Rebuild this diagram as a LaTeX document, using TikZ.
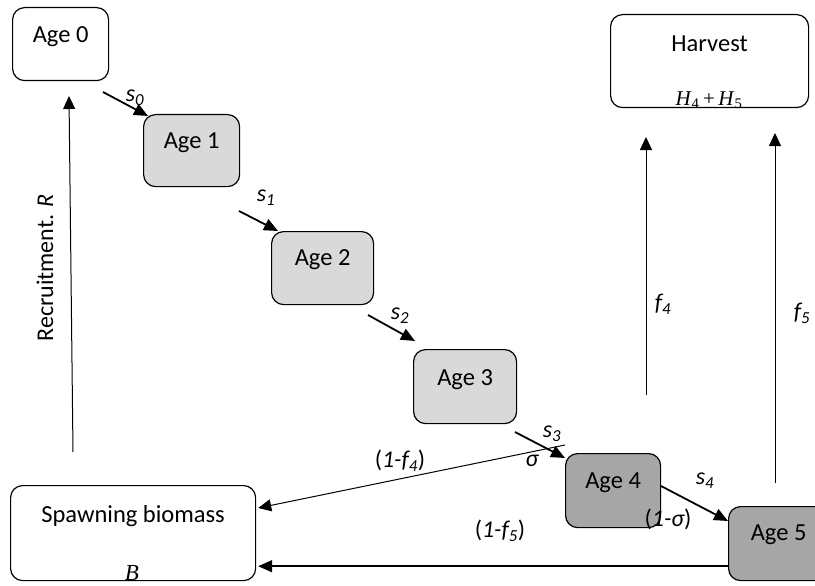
\documentclass[tikz,border=0pt]{standalone}
\usepackage{fontspec}
\setmainfont{Carlito}
\newfontfamily\tms{Liberation Serif}
\usetikzlibrary{arrows.meta}
\definecolor{lightg}{HTML}{D9D9D9}
\definecolor{darkg}{HTML}{A6A6A6}
\tikzset{
  box/.style={draw, line width=1.2pt, rounded corners=12pt, inner sep=0pt, anchor=north west,
    font=\fontsize{24.5}{29}\selectfont},
  light/.style={fill=lightg},
  dark/.style={fill=darkg},
  sarr/.style={line width=1.8pt, -{Triangle[length=14pt,width=12pt]}},
  larr/.style={line width=1pt, -{Triangle[length=13pt,width=12pt]}},
  barr/.style={line width=1.6pt, -{Triangle[length=14pt,width=12pt]}},
  lbl/.style={font=\fontsize{24}{28}\selectfont\itshape, inner sep=0pt},
  serifl/.style={font=\fontsize{21}{24}\selectfont\tms, inner sep=0pt},
}
\begin{document}
\begin{tikzpicture}[x=1pt,y=-1pt]
\useasboundingbox (0,0) rectangle (815,586);
% boxes
\node[box, minimum width=96pt, text height=34.5pt, text depth=38.5pt] (a0) at (12,7) {Age 0};
\node[box, light, minimum width=96pt, text height=34pt, text depth=38pt] (a1) at (143,114) {Age 1};
\node[box, light, minimum width=102pt, text height=34pt, text depth=39pt] (a2) at (271,231) {Age 2};
\node[box, light, minimum width=103pt, text height=36pt, text depth=38pt] (a3) at (413,349) {Age 3};
\node[box, dark, minimum width=95pt, text height=35pt, text depth=39pt] (a4) at (565,453) {Age 4};
\node[box, dark, minimum width=100pt, text height=34pt, text depth=40pt] (a5) at (728,506) {Age 5};
\node[box, minimum width=198pt, text height=37pt, text depth=56pt] (hv) at (610,14) {Harvest};
\node[box, minimum width=245pt, text height=37pt, text depth=58pt] (sb) at (10,485) {Spawning biomass};
% free ends
\coordinate (s0a) at (103,92);
\coordinate (s1a) at (239,211);
\coordinate (s2a) at (368,315);
\coordinate (s3a) at (515,432);
\coordinate (s4a) at (661,486);
\coordinate (f4a) at (565,445);
\coordinate (rb) at (73,452);
\coordinate (rt) at (69,96);
\coordinate (f4b) at (646,395);
\coordinate (f4t) at (646,137);
\coordinate (f5b) at (775,483);
\coordinate (f5t) at (775,133);
% connectors
\draw[sarr] (s0a) -- ([shift={(5,2)}]a1.north west);
\draw[sarr] (s1a) -- ([shift={(7,0)}]a2.north west);
\draw[sarr] (s2a) -- ([shift={(2,-8)}]a3.north west);
\draw[larr] (f4a) -- ([shift={(2,23)}]sb.north east);
\draw[sarr] (s3a) -- ([shift={(0,5)}]a4.north west);
\draw[sarr] (s4a) -- ([shift={(0,15)}]a5.north west);
\draw[barr] ([shift={(0,-15)}]a5.south west) -- ([shift={(2,-15)}]sb.south east);
\draw[larr] (rb) -- (rt);
\draw[larr] (f4b) -- (f4t);
\draw[larr] (f5b) -- (f5t);
% labels
\node[lbl] (ls0) at (135,98) {s\textsubscript{0}};
\node[lbl] (ls1) at (266,198) {s\textsubscript{1}};
\node[lbl] (ls2) at (400,316) {s\textsubscript{2}};
\node[lbl] (ls3) at (552,434) {s\textsubscript{3}};
\node[lbl] (lsig) at (532,461) {σ};
\node[lbl] (ls4) at (705,481) {s\textsubscript{4}};
\node[lbl] (l1s) at (668,519) {\upshape(\itshape1-σ\upshape)};
\node[lbl] (l1f4) at (400,461) {\upshape(\itshape1-f\textsubscript{4}\upshape)};
\node[lbl] (l1f5) at (500,531) {\upshape(\itshape1-f\textsubscript{5}\upshape)};
\node[lbl] (lf4) at (663,304) {f\textsubscript{4}};
\node[lbl] (lf5) at (802,313) {f\textsubscript{5}};
\node[lbl, rotate=90] (lrec) at (45,268) {\upshape Recruitment. \itshape R};
\node[serifl] (lh) at (709,100) {\textit{H}\textsubscript{4}\,+\,\textit{H}\textsubscript{5}};
\node[serifl, font=\fontsize{23}{26}\selectfont\tms] (lb) at (132,573) {\textit{B}};
\end{tikzpicture}
\end{document}
